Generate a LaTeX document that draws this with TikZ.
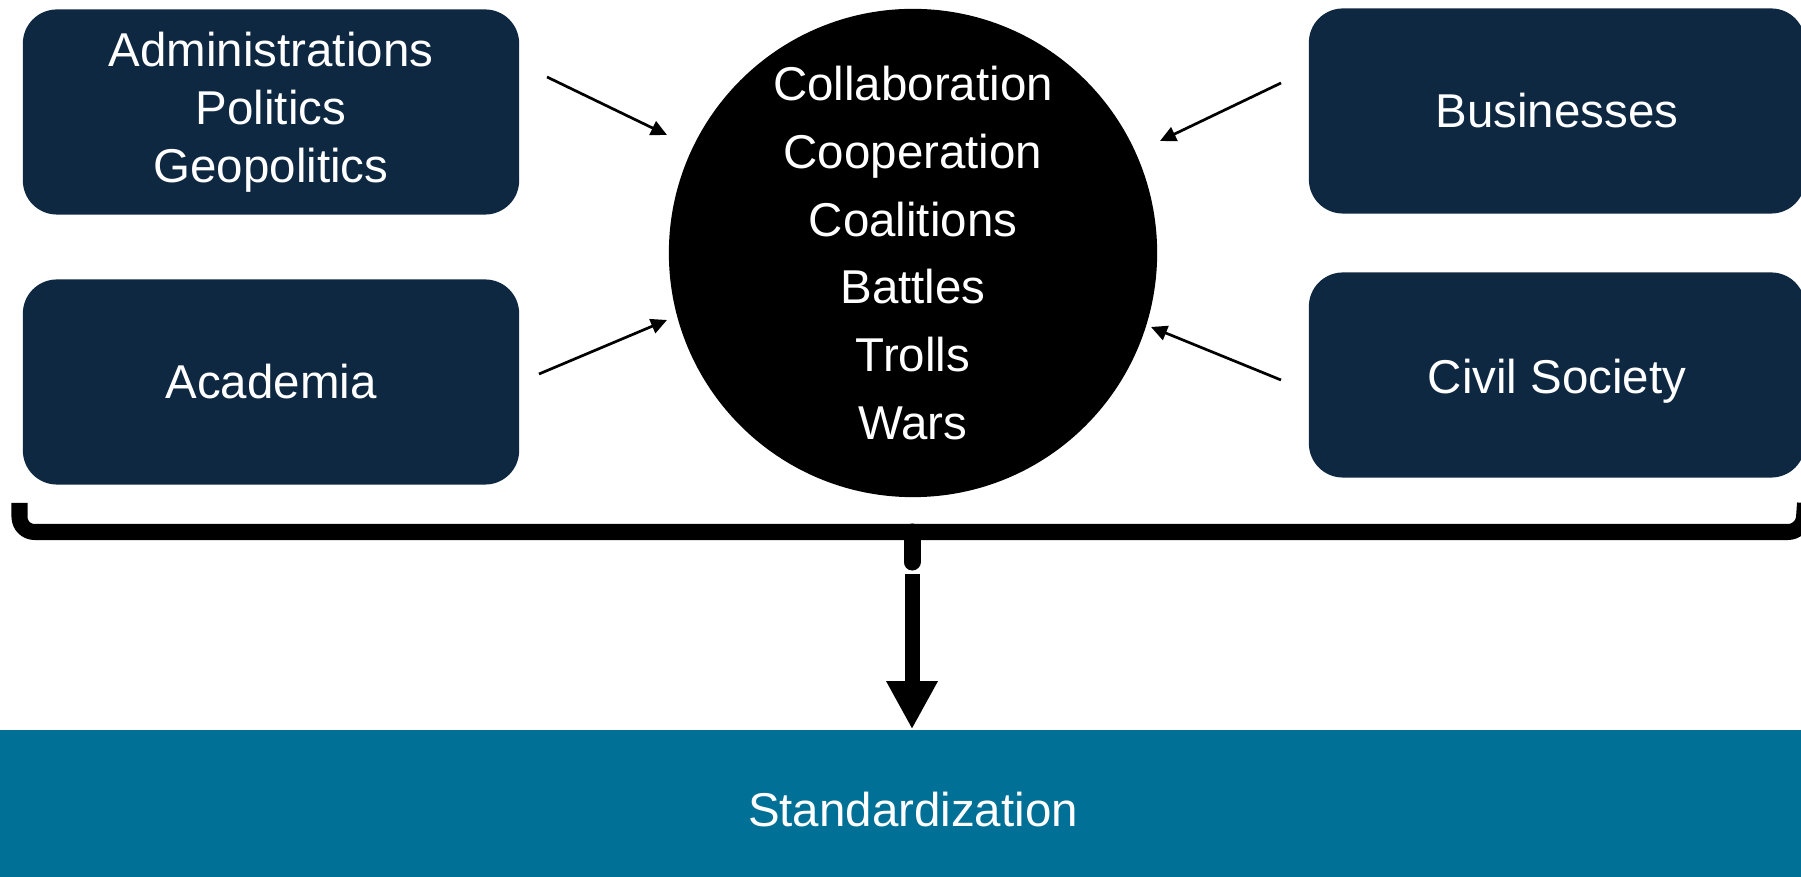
\documentclass[tikz,border=0pt]{standalone}
\usepackage{fontspec}
\setmainfont{Liberation Sans}
\usetikzlibrary{arrows.meta}
\definecolor{navy}{HTML}{0F2841}
\definecolor{teal}{HTML}{007096}
\tikzset{
	actor/.style={fill=navy, text=white, rounded corners=0.34cm, minimum width=4.96cm, minimum height=2.05cm, align=center, font=\fontsize{13.5}{16.5}\selectfont},
	thinarrow/.style={line width=0.027cm, -{Triangle[length=0.16cm,width=0.15cm]}},
}
\begin{document}
\begin{tikzpicture}[x=0.01cm, y=-0.01cm, line join=round]
			\useasboundingbox (0,0) rectangle (1801,877);
			% groups around the centre
			\node[actor] (adm) at (271,112) {Administrations\\Politics\\Geopolitics};
			\node[actor] (aca) at (271,382) {Academia};
			\node[actor] (bus) at (1557,111) {Businesses};
			\node[actor, text height=13.3pt, text depth=2.8pt] (civ) at (1557,375) {Civil Society};
			\node[circle, fill=black, text=white, minimum size=4.88cm, inner sep=0pt, align=center, font=\fontsize{13.5}{19.3}\selectfont] (circ) at (913,253) {Collaboration\\Cooperation\\Coalitions\\Battles\\Trolls\\Wars};
			\node[fill=teal, text=white, minimum width=18.26cm, minimum height=1.6cm, inner sep=0pt, font=\fontsize{13.5}{16.5}\selectfont] (std) at (913,810) {Standardization};
			% small arrows
			\coordinate (a1) at (547,77);
			\coordinate (b1) at (667,135);
			\coordinate (a2) at (539,374);
			\coordinate (b2) at (667,320);
			\coordinate (a3) at (1281,83);
			\coordinate (b3) at (1160,141);
			\coordinate (a4) at (1281,380);
			\coordinate (b4) at (1151,327);
			\draw[thinarrow] (a1)--(b1);
			\draw[thinarrow] (a2)--(b2);
			\draw[thinarrow] (a3)--(b3);
			\draw[thinarrow] (a4)--(b4);
			% brace
			\draw[line width=0.16cm, rounded corners=0.15cm] (19.5,503)--(19.5,532)--(1803,532)--(1805,503);
			\coordinate (brmid) at (912,532);
			\coordinate (brtip) at (912,574);
			\draw[line width=0.17cm, line cap=round] (brmid)--(912,562);
			\draw[line width=0.15cm, -{Triangle[length=0.48cm,width=0.48cm]}] (brtip)--(brtip |- std.north);
		\end{tikzpicture}
\end{document}
